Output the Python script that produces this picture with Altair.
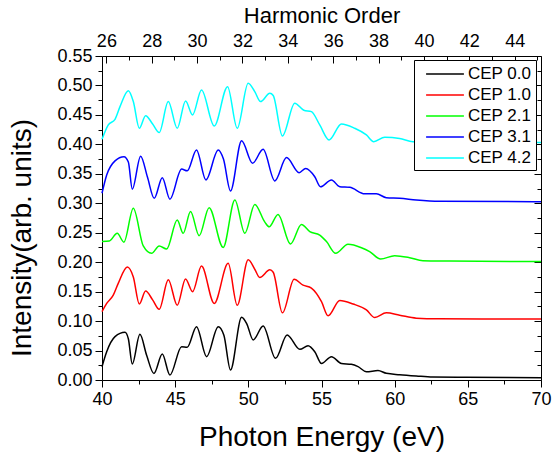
import altair as alt
import pandas as pd

# ---------------- data ----------------
EV_PER_ORDER = 1.55

series_names = ["CEP 0.0", "CEP 1.0", "CEP 2.1", "CEP 3.1", "CEP 4.2"]
series_colors = ["#000000", "#ff0000", "#00ff00", "#0000ff", "#00ffff"]

energy_cep00 = [40.0, 40.32, 40.89, 41.57, 41.8, 42.07, 42.59, 43.05, 43.55, 44.12, 44.64,
                45.44, 45.82, 46.46, 47.15, 47.94, 48.33, 48.78, 49.54, 49.9, 50.33, 51.01,
                51.86, 52.65, 53.52, 54.08, 54.54, 55.0, 55.68, 56.36, 57.04, 57.5, 58.07,
                58.86, 59.43, 60.34, 61.48, 62.6, 64.9, 70.0]
intensity_cep00 = [0.0226, 0.048, 0.0736, 0.081, 0.070, 0.027, 0.0775, 0.042, 0.011, 0.044, 0.0085,
                   0.0566, 0.0555, 0.0905, 0.0396, 0.0905, 0.076, 0.017, 0.1064, 0.095, 0.068, 0.0917,
                   0.0368, 0.0764, 0.052, 0.058, 0.048, 0.028, 0.0396, 0.028, 0.0266, 0.0226, 0.014,
                   0.016, 0.0113, 0.009, 0.0068, 0.005, 0.0045, 0.004]

energy_cep10 = [40.0, 40.32, 40.77, 41.11, 41.73, 42.14, 42.55, 42.98, 43.46, 43.91, 44.53,
                45.14, 45.71, 46.19, 46.8, 47.67, 48.62, 49.24, 49.99, 50.44, 50.78, 51.47,
                51.7, 52.33, 53.13, 53.74, 54.31, 55.0, 55.45, 56.25, 57.16, 58.07, 58.64,
                59.43, 60.34, 61.48, 63.0, 70.0]
intensity_cep10 = [0.116, 0.130, 0.144, 0.164, 0.192, 0.175, 0.129, 0.151, 0.136, 0.120, 0.170,
                   0.127, 0.1715, 0.150, 0.1935, 0.130, 0.198, 0.127, 0.204, 0.188, 0.174, 0.187,
                   0.183, 0.114, 0.171, 0.161, 0.156, 0.133, 0.109, 0.135, 0.129, 0.119, 0.106,
                   0.114, 0.110, 0.105, 0.104, 0.1036]

energy_cep21 = [40.0, 40.5, 41.04, 41.5, 42.14, 42.82, 43.39, 43.91, 44.42, 45.14, 45.55,
                46.05, 46.64, 47.32, 48.28, 49.08, 49.76, 50.44, 51.13, 51.42, 52.03, 52.88,
                53.63, 54.2, 54.88, 55.34, 55.97, 56.81, 57.73, 58.29, 59.04, 60.0, 61.02,
                61.93, 63.75, 70.0]
intensity_cep21 = [0.235, 0.236, 0.249, 0.234, 0.2915, 0.2275, 0.215, 0.2275, 0.2224, 0.2716, 0.249,
                   0.286, 0.245, 0.2926, 0.225, 0.3056, 0.249, 0.298, 0.268, 0.260, 0.281, 0.231,
                   0.264, 0.252, 0.246, 0.235, 0.215, 0.2304, 0.2246, 0.218, 0.2054, 0.211, 0.2077,
                   0.2026, 0.202, 0.201]

energy_cep31 = [40.0, 40.32, 40.89, 41.5, 41.8, 42.07, 42.64, 43.1, 43.57, 44.12, 44.64,
                45.44, 45.82, 46.46, 47.1, 47.94, 48.3, 48.78, 49.54, 50.29, 51.01, 51.81,
                52.61, 53.47, 53.92, 54.54, 54.93, 55.68, 56.25, 56.93, 57.95, 58.75, 59.43,
                60.34, 61.48, 63.07, 70.0]
intensity_cep31 = [0.317, 0.348, 0.372, 0.379, 0.370, 0.324, 0.380, 0.345, 0.3085, 0.3435, 0.307,
                   0.358, 0.355, 0.3905, 0.3396, 0.3905, 0.375, 0.321, 0.4063, 0.368, 0.3917, 0.338,
                   0.3775, 0.352, 0.359, 0.345, 0.328, 0.3396, 0.328, 0.327, 0.316, 0.316, 0.3095,
                   0.3085, 0.3056, 0.3034, 0.3027]

energy_cep42 = [40.0, 40.43, 40.89, 41.23, 41.8, 42.14, 42.55, 42.98, 43.46, 43.91, 44.53,
                45.14, 45.71, 46.19, 46.8, 47.67, 48.58, 49.24, 49.99, 50.44, 50.83, 51.47,
                51.7, 52.33, 53.17, 53.79, 54.31, 54.88, 55.52, 56.36, 57.27, 58.07, 58.57,
                59.32, 60.34, 61.25, 62.5, 65.0, 70.0]
intensity_cep42 = [0.4086, 0.433, 0.4426, 0.464, 0.491, 0.4726, 0.4273, 0.4487, 0.4346, 0.420, 0.4726,
                   0.4273, 0.4737, 0.450, 0.4924, 0.4312, 0.498, 0.4273, 0.5037, 0.4895, 0.4726, 0.4867,
                   0.483, 0.4143, 0.470, 0.458, 0.4555, 0.433, 0.4075, 0.4346, 0.4273, 0.416, 0.4046,
                   0.412, 0.410, 0.4046, 0.404, 0.4035, 0.403]

bottom_tick_values = [40, 42.5, 45, 47.5, 50, 52.5, 55, 57.5, 60, 62.5, 65, 67.5, 70]
left_tick_values = [0.0, 0.025, 0.05, 0.075, 0.1, 0.125, 0.15, 0.175, 0.2, 0.225, 0.25, 0.275,
                    0.3, 0.325, 0.35, 0.375, 0.4, 0.425, 0.45, 0.475, 0.5, 0.525, 0.55]
harmonic_orders = [26, 27, 28, 29, 30, 31, 32, 33, 34, 35, 36, 37, 38, 39, 40, 41, 42, 43, 44, 45]
harmonic_labels = [26, 28, 30, 32, 34, 36, 38, 40, 42, 44]

# ---------------- table ----------------
rows = []
for name, es, vs in zip(series_names,
                        [energy_cep00, energy_cep10, energy_cep21, energy_cep31, energy_cep42],
                        [intensity_cep00, intensity_cep10, intensity_cep21, intensity_cep31, intensity_cep42]):
    for e, v in zip(es, vs):
        rows.append({"series": name, "energy": e, "intensity": v})
df = pd.DataFrame(rows)

FONT = "Liberation Sans"
W, H = 439, 324

xscale = alt.Scale(domain=[40, 70], nice=False, zero=False)
yscale = alt.Scale(domain=[0, 0.55], nice=False, zero=False)

base = alt.Chart(df)

lines = base.mark_line(strokeWidth=1.5, interpolate="monotone").encode(
    x=alt.X("energy:Q", scale=xscale, axis=alt.Axis(
        orient="bottom", values=bottom_tick_values,
        labelExpr="round(datum.value*2) % 10 === 0 ? format(datum.value, 'd') : ''",
        tickSize={"condition": {"test": "round(datum.value*2) % 10 === 0", "value": 7}, "value": 4},
        labelPadding=3, domain=False, grid=False,
        title="Photon Energy (eV)", titleFontSize=28, titleY=65, titleBaseline="alphabetic")),
    y=alt.Y("intensity:Q", scale=yscale, axis=alt.Axis(
        orient="left", values=left_tick_values,
        labelExpr="round(datum.value*1000) % 50 === 0 ? format(datum.value, '.2f') : ''",
        tickSize={"condition": {"test": "round(datum.value*1000) % 50 === 0", "value": 7}, "value": 4},
        labelPadding=3, domain=False, grid=False,
        title="Intensity(arb. units)", titleFontSize=28, titleX=-72, titleY=181.5,
        titleBaseline="alphabetic")),
    color=alt.Color("series:N", scale=alt.Scale(domain=series_names, range=series_colors),
                    legend=alt.Legend(
                        title=None, orient="none", legendX=312, legendY=4,
                        fillColor="white", strokeColor="black", padding=4, cornerRadius=0,
                        symbolType="M-2.1,0L2.1,0", symbolSize=324, symbolStrokeWidth=1.5,
                        symbolOffset=17, labelOffset=13, labelFontSize=17, labelFont=FONT,
                        labelColor="black", rowPadding=3, labelLimit=200)),
)

top_labels = base.mark_point(opacity=0).encode(
    x=alt.X("energy:Q", scale=xscale, axis=alt.Axis(
        orient="top", values=[o * EV_PER_ORDER for o in harmonic_labels],
        labelExpr="format(round(datum.value/1.55), 'd')",
        ticks=False, domain=False, grid=False, labelPadding=6,
        title="Harmonic Order", titleFontSize=22, titleY=-34, titleBaseline="alphabetic")),
    y=alt.Y("intensity:Q", scale=yscale, axis=None),
)

top_ticks = base.mark_point(opacity=0).encode(
    x=alt.X("energy:Q", scale=xscale, axis=alt.Axis(
        orient="bottom", offset=-H, values=[o * EV_PER_ORDER for o in harmonic_orders],
        labels=False, domain=False, grid=False, title=None,
        tickSize={"condition": {"test": "round(datum.value/1.55) % 2 === 0", "value": 7}, "value": 4})),
    y=alt.Y("intensity:Q", scale=yscale, axis=None),
)

right_ticks = base.mark_point(opacity=0).encode(
    x=alt.X("energy:Q", scale=xscale, axis=None),
    y=alt.Y("intensity:Q", scale=yscale, axis=alt.Axis(
        orient="left", offset=-W, values=left_tick_values,
        labels=False, domain=False, grid=False, title=None,
        tickSize={"condition": {"test": "round(datum.value*1000) % 50 === 0", "value": 7}, "value": 4})),
)

chart = alt.layer(lines, top_labels, top_ticks, right_ticks).resolve_axis(
    x="independent", y="independent"
).properties(
    width=W, height=H,
    autosize=alt.AutoSizeParams(type="none"),
    padding={"left": 102, "top": 56, "right": 11, "bottom": 72},
    background="white",
).configure_view(
    stroke="black", strokeWidth=1
).configure_axis(
    labelFont=FONT, labelFontSize=18, labelColor="black",
    titleFont=FONT, titleFontWeight="normal", titleColor="black",
    tickColor="black", tickWidth=1, labelFlush=False, labelOverlap=False, labelBound=False,
)

chart.save("out.html", embed_options={"renderer": "svg", "actions": False})
